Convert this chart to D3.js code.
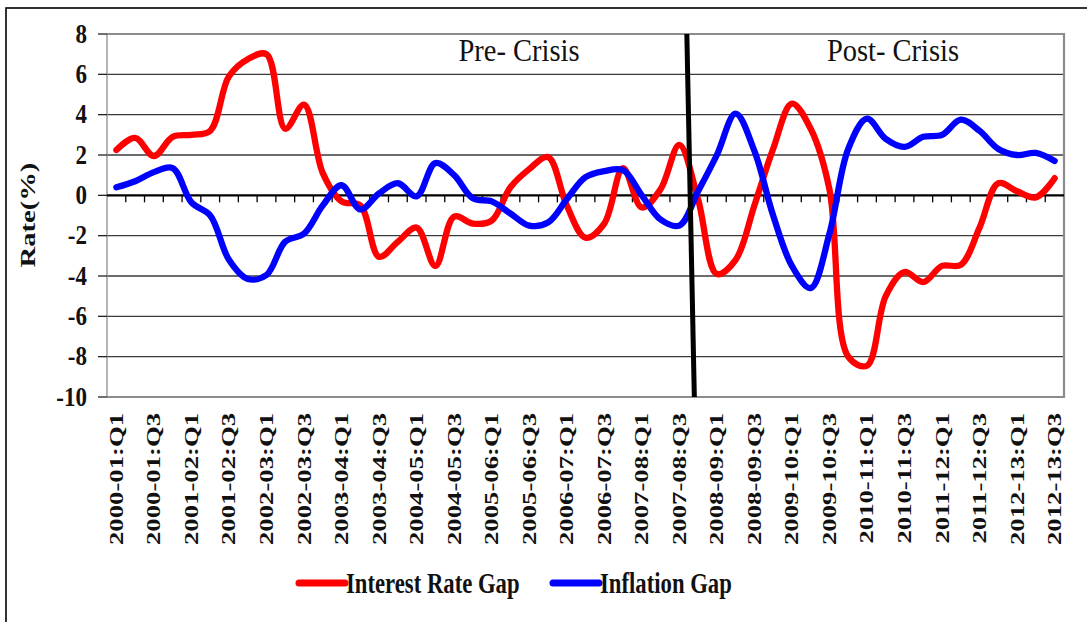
<!DOCTYPE html>
<html>
<head>
<meta charset="utf-8">
<script src="https://cdn.jsdelivr.net/npm/d3@7"></script>
<style>
  body { margin: 0; background: #fff; }
  svg { display: block; }
</style>
</head>
<body>
<div id="chart"></div>
<script>

// Data
var fiscalYears = ['2000-01', '2001-02', '2002-03', '2003-04', '2004-05', '2005-06', '2006-07',
  '2007-08', '2008-09', '2009-10', '2010-11', '2011-12', '2012-13'];
var quarterNames = ['Q1', 'Q2', 'Q3', 'Q4'];
var lastQuarter = '2012-13:Q3';
var crisisAfter = '2007-08:Q3';

var interestGap = [
  2.25, 2.85, 1.95, 2.9, 3.0, 3.2, 5.9, 6.75, 7.0, 3.3,
  4.5, 1.1, -0.3, -0.5, -3.05, -2.3, -1.6, -3.5, -1.05, -1.4,
  -1.25, 0.4, 1.3, 1.9, -0.5, -2.1, -1.4, 1.35, -0.6, 0.3,
  2.5, -0.2, -3.9, -3.2, -0.5, 2.3, 4.55, 3.3, 0.3, -8.0,
  -8.45, -5.0, -3.8, -4.3, -3.5, -3.45, -1.6, 0.6, 0.2, -0.1,
  0.85
];

var inflationGap = [
  0.4, 0.7, 1.15, 1.35, -0.35, -1.0, -3.2, -4.15, -3.95, -2.3,
  -1.9, -0.5, 0.5, -0.7, 0.1, 0.6, -0.05, 1.6, 1.0, -0.15,
  -0.3, -0.9, -1.5, -1.35, -0.2, 0.9, 1.2, 1.25, 0.0, -1.2,
  -1.5, 0.2, 2.0, 4.05, 2.2, -1.0, -3.5, -4.6, -1.9, 2.3,
  3.8, 2.8, 2.4, 2.9, 3.0, 3.75, 3.2, 2.3, 2.0, 2.1,
  1.7
];

var yTicks = [8, 6, 4, 2, 0, -2, -4, -6, -8, -10];
var periodLabels = ['Pre- Crisis', 'Post- Crisis'];
var seriesNames = ['Interest Rate Gap', 'Inflation Gap'];

var quarters = [];
fiscalYears.forEach(function(fy) {
  quarterNames.forEach(function(q) {
    if (quarters.length && quarters[quarters.length - 1] === lastQuarter) return;
    quarters.push(fy + ':' + q);
  });
});

var series = [
  { name: seriesNames[0], values: interestGap, color: '#ff0000' },
  { name: seriesNames[1], values: inflationGap, color: '#0000ff' }
];

var W = 1087, H = 622;
var plot = { left: 107, right: 1064, top: 34, bottom: 397 };
var SERIF = '"Liberation Serif", "Times New Roman", serif';

function translate(x, y) {
  return 'translate(' + x + ',' + y + ')';
}

var svg = d3.select('#chart').append('svg')
  .attr('width', W)
  .attr('height', H)
  .style('font-family', SERIF);

// outer frame
svg.append('rect')
  .attr('x', 6).attr('y', 8)
  .attr('width', W + 20).attr('height', H + 20)
  .attr('fill', '#fff')
  .attr('stroke', '#000')
  .attr('stroke-width', 1.6);

var x = d3.scaleBand()
  .domain(quarters)
  .range([plot.left, plot.right]);

var y = d3.scaleLinear()
  .domain([-10, 8])
  .range([plot.bottom, plot.top]);

function cx(q) {
  return x(q) + x.bandwidth() / 2;
}

var g = svg.append('g');

// gridlines
g.append('g').selectAll('line')
  .data(yTicks.filter(function(t) { return t !== 0 && t !== -10; }))
  .enter().append('line')
  .attr('x1', plot.left).attr('x2', plot.right)
  .attr('y1', function(d) { return y(d); })
  .attr('y2', function(d) { return y(d); })
  .attr('stroke', '#3a3a3a')
  .attr('stroke-width', 1.3);

// plot border
g.append('path')
  .attr('d', 'M' + plot.left + ',' + y(8) + 'H' + plot.right + 'V' + y(-10) + 'H' + plot.left)
  .attr('fill', 'none')
  .attr('stroke', '#8c8c8c')
  .attr('stroke-width', 2.2);

g.append('line')
  .attr('x1', plot.left).attr('x2', plot.left)
  .attr('y1', y(8)).attr('y2', y(-10))
  .attr('stroke', '#8c8c8c')
  .attr('stroke-width', 1.3);

// y ticks + labels
var yAxis = g.append('g');
yAxis.selectAll('line')
  .data(yTicks)
  .enter().append('line')
  .attr('x1', plot.left - 9).attr('x2', plot.left)
  .attr('y1', function(d) { return y(d); })
  .attr('y2', function(d) { return y(d); })
  .attr('stroke', '#222')
  .attr('stroke-width', 1.3);

yAxis.selectAll('g.ylab')
  .data(yTicks)
  .enter().append('g')
  .attr('class', 'ylab')
  .attr('transform', function(d) { return translate(plot.left - 20, y(d) + 8.5) + ' scale(1,1.2)'; })
  .append('text')
  .attr('text-anchor', 'end')
  .attr('font-size', 23)
  .attr('font-weight', 'bold')
  .attr('fill', '#111')
  .text(function(d) { return d; });

// y title
svg.append('g')
  .attr('transform', translate(35, 215) + ' rotate(-90) scale(1.3,1)')
  .append('text')
  .attr('text-anchor', 'middle')
  .attr('font-size', 22)
  .attr('font-weight', 'bold')
  .attr('fill', '#111')
  .text('Rate(%)');

// zero line with category ticks
g.append('line')
  .attr('x1', plot.left).attr('x2', plot.right)
  .attr('y1', y(0)).attr('y2', y(0))
  .attr('stroke', '#000')
  .attr('stroke-width', 2.2);

g.append('g').selectAll('line')
  .data(quarters.slice(1))
  .enter().append('line')
  .attr('x1', function(d) { return x(d); })
  .attr('x2', function(d) { return x(d); })
  .attr('y1', y(0)).attr('y2', y(0) + 7)
  .attr('stroke', '#000')
  .attr('stroke-width', 1.3);

// x labels, every other quarter
g.append('g').selectAll('g')
  .data(quarters.filter(function(d, i) { return i % 2 === 0; }))
  .enter().append('g')
  .attr('transform', function(d) { return translate(cx(d) + 6.5, plot.bottom + 16) + ' rotate(-90) scale(1.37,1)'; })
  .append('text')
  .attr('text-anchor', 'end')
  .attr('font-size', 19.5)
  .attr('font-weight', 'bold')
  .attr('fill', '#111')
  .text(function(d) { return d; });

// series lines
var line = d3.line()
  .x(function(d, i) { return cx(quarters[i]); })
  .y(function(d) { return y(d); })
  .curve(d3.curveCatmullRom.alpha(0.5));

g.append('g').selectAll('path')
  .data(series)
  .enter().append('path')
  .attr('d', function(d) { return line(d.values); })
  .attr('fill', 'none')
  .attr('stroke', function(d) { return d.color; })
  .attr('stroke-width', 6.3)
  .attr('stroke-linejoin', 'round')
  .attr('stroke-linecap', 'round');

// crisis divider
var xb = x(crisisAfter) + x.bandwidth();
g.append('line')
  .attr('x1', xb - 0.1 * x.bandwidth()).attr('y1', y(8))
  .attr('x2', xb + 0.3 * x.bandwidth()).attr('y2', y(-10))
  .attr('stroke', '#000')
  .attr('stroke-width', 5);

// period labels
var periodX = [519, 893];
g.append('g').selectAll('g')
  .data(periodLabels)
  .enter().append('g')
  .attr('transform', function(d, i) { return translate(periodX[i], 61) + ' scale(1,1.12)'; })
  .append('text')
  .attr('text-anchor', 'middle')
  .attr('font-size', 28.5)
  .attr('fill', '#111')
  .text(function(d) { return d; });

// legend
var legendX = [299, 553];
var legend = svg.append('g').selectAll('g')
  .data(series)
  .enter().append('g')
  .attr('transform', function(d, i) { return translate(legendX[i], 583); });

legend.append('line')
  .attr('x1', 0).attr('x2', 46)
  .attr('y1', 0).attr('y2', 0)
  .attr('stroke', function(d) { return d.color; })
  .attr('stroke-width', 7)
  .attr('stroke-linecap', 'round');

legend.append('g')
  .attr('transform', translate(47, 10) + ' scale(1,1.32)')
  .append('text')
  .attr('font-size', 22.7)
  .attr('font-weight', 'bold')
  .attr('fill', '#111')
  .text(function(d) { return d.name; });

</script>
</body>
</html>
